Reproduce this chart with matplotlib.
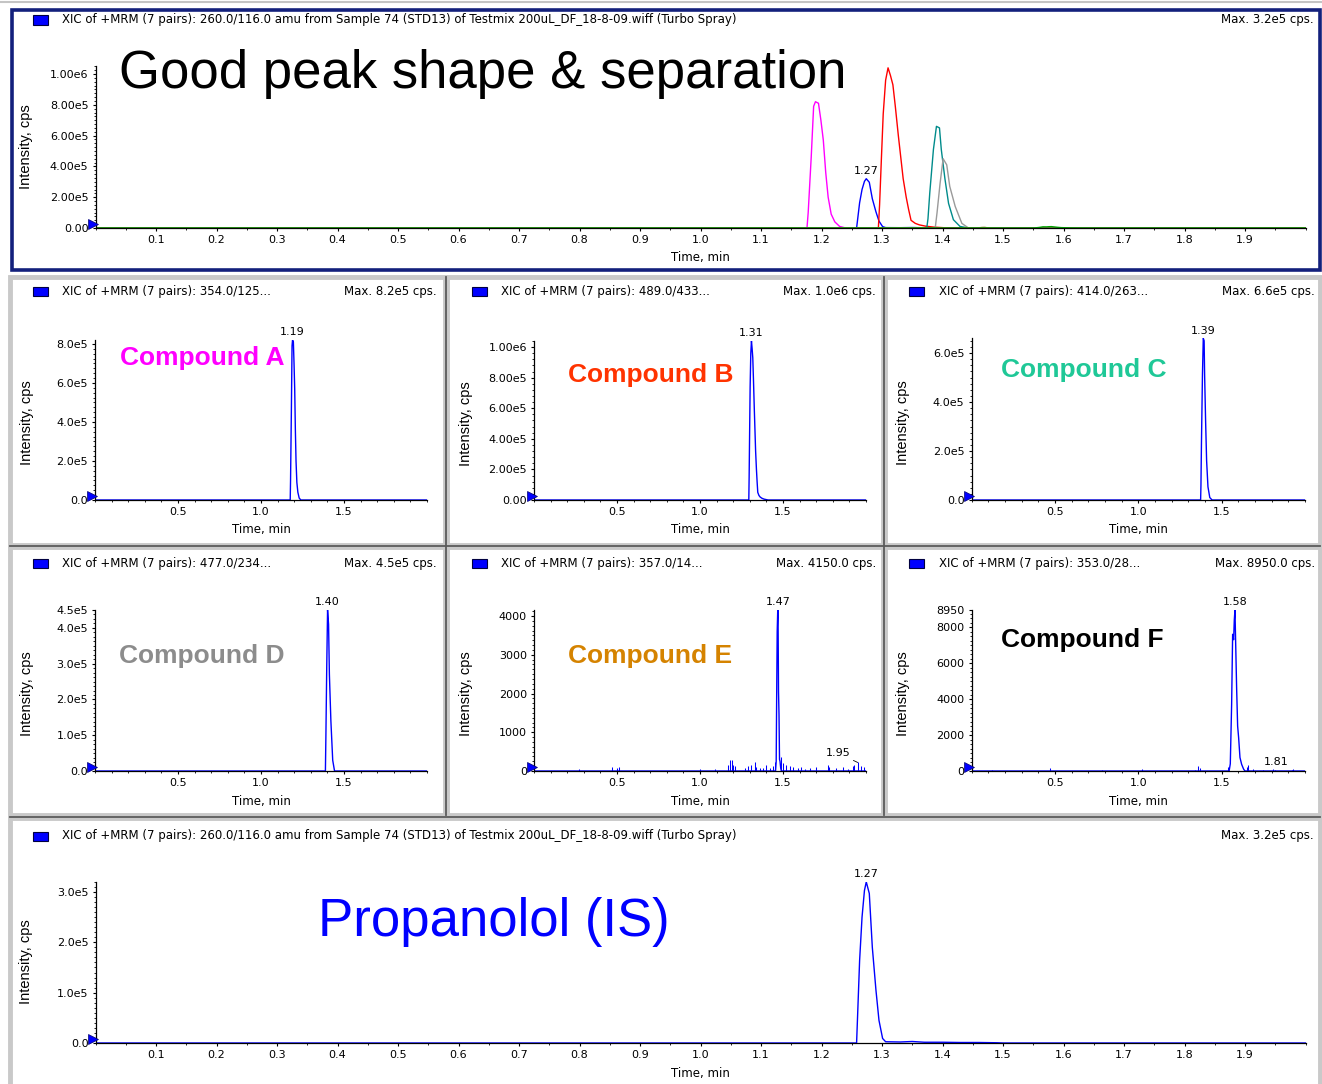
import matplotlib.pyplot as plt
import matplotlib.transforms as mtransforms
from matplotlib.patches import Rectangle
from matplotlib.lines import Line2D
from matplotlib.ticker import MultipleLocator, FixedLocator, FixedFormatter

W, H = 1322, 1084

# XIC traces: retention time (min) and intensity (cps)
a_t = [0.0, 1.176, 1.178, 1.183, 1.187, 1.190, 1.195, 1.199, 1.203, 1.207, 1.211, 1.216, 1.222, 1.230, 1.240, 2.0]
a_i = [0, 0, 1.0e5, 4.6e5, 7.9e5, 8.2e5, 8.1e5, 7.0e5, 5.7e5, 3.6e5, 2.0e5, 9.0e4, 4.0e4, 1.0e4, 0, 0]

b_t = [0.0, 1.294, 1.296, 1.299, 1.302, 1.306, 1.310, 1.314, 1.318, 1.322, 1.327, 1.331, 1.335,
       1.340, 1.344, 1.348, 1.355, 1.362, 1.372, 1.385, 1.410, 2.0]
b_i = [0, 0, 1.5e5, 4.5e5, 7.4e5, 9.6e5, 1.04e6, 9.9e5, 9.3e5, 7.9e5, 6.0e5, 4.6e5, 3.2e5,
       2.0e5, 1.2e5, 5.0e4, 3.0e4, 2.0e4, 1.2e4, 6.0e3, 0, 0]

c_t = [0.0, 1.374, 1.376, 1.379, 1.385, 1.390, 1.395, 1.398, 1.404, 1.410, 1.418, 1.429, 1.443, 2.0]
c_i = [0, 0, 6.0e4, 2.3e5, 5.1e5, 6.6e5, 6.5e5, 5.1e5, 3.2e5, 1.6e5, 5.4e4, 1.0e4, 0, 0]

d_t = [0.0, 1.388, 1.391, 1.396, 1.401, 1.407, 1.412, 1.421, 1.432, 1.443, 2.0]
d_i = [0, 0, 1.0e5, 2.9e5, 4.5e5, 4.1e5, 2.7e5, 1.4e5, 3.0e4, 0, 0]

e_t = [0.0, 1.455, 1.459, 1.462, 1.465, 1.468, 1.470, 1.473, 1.476, 1.479, 1.482, 1.486, 1.490, 2.0]
e_i = [0, 0, 250, 2000, 3600, 4100, 4150, 2050, 1450, 300, 250, 80, 0, 0]
e_noise_t = [0.27, 0.47, 0.50, 0.51, 1.00, 1.09, 1.17, 1.18, 1.19, 1.20, 1.21, 1.27, 1.29, 1.31,
             1.33, 1.34, 1.36, 1.38, 1.40, 1.42, 1.44, 1.45, 1.49, 1.50, 1.52, 1.54, 1.56, 1.59,
             1.61, 1.63, 1.66, 1.70, 1.77, 1.78, 1.82, 1.86, 1.89, 1.92, 1.93, 1.95, 1.97, 1.99]
e_noise_i = [40, 100, 80, 100, 50, 60, 150, 280, 280, 150, 120, 80, 120, 160,
             220, 110, 80, 90, 150, 80, 140, 220, 350, 200, 150, 120, 100, 80,
             100, 60, 80, 100, 150, 100, 80, 100, 60, 120, 150, 220, 120, 100]

f_t = [0.0, 1.545, 1.552, 1.560, 1.566, 1.572, 1.576, 1.580, 1.584, 1.590, 1.596, 1.602, 1.610,
       1.620, 1.632, 1.640, 2.0]
f_i = [0, 0, 400, 3700, 7600, 7300, 8400, 8950, 7200, 4600, 2500, 1850, 750, 370, 100, 0, 0]
f_noise_t = [0.12, 0.47, 0.78, 1.02, 1.34, 1.36, 1.37, 1.54, 1.65, 1.66, 1.69, 1.75, 1.81, 1.82, 1.92, 1.93]
f_noise_i = [80, 150, 80, 100, 80, 280, 150, 250, 200, 320, 100, 80, 120, 80, 80, 100]

# propranolol internal standard
p_t = [0.0, 1.258, 1.260, 1.263, 1.267, 1.271, 1.274, 1.279, 1.284, 1.290, 1.295, 1.301, 1.306,
       1.33, 1.35, 1.37, 1.40, 1.43, 1.46, 1.49, 1.50, 2.0]
p_i = [0, 0, 6.5e4, 1.64e5, 2.5e5, 3.03e5, 3.2e5, 2.97e5, 1.9e5, 1.05e5, 4.5e4, 9e3, 2.5e3,
       2e3, 3e3, 1.5e3, 1.5e3, 1e3, 1e3, 5e2, 0, 0]

# transitions shown in each panel header
hdr_full = ("XIC of +MRM (7 pairs): 260.0/116.0 amu from Sample 74 (STD13) of "
            "Testmix 200uL_DF_18-8-09.wiff (Turbo Spray)")
hdr_a = "XIC of +MRM (7 pairs): 354.0/125..."
hdr_b = "XIC of +MRM (7 pairs): 489.0/433..."
hdr_c = "XIC of +MRM (7 pairs): 414.0/263..."
hdr_d = "XIC of +MRM (7 pairs): 477.0/234..."
hdr_e = "XIC of +MRM (7 pairs): 357.0/14..."
hdr_f = "XIC of +MRM (7 pairs): 353.0/28..."

# y tick positions / labels
yt_top = [0, 2e5, 4e5, 6e5, 8e5, 1e6]
yl_top = ["0.00", "2.00e5", "4.00e5", "6.00e5", "8.00e5", "1.00e6"]
yt_a = [0, 2e5, 4e5, 6e5, 8e5]
yl_a = ["0.0", "2.0e5", "4.0e5", "6.0e5", "8.0e5"]
yt_b = [0, 2e5, 4e5, 6e5, 8e5, 1e6]
yl_b = ["0.00", "2.00e5", "4.00e5", "6.00e5", "8.00e5", "1.00e6"]
yt_c = [0, 2e5, 4e5, 6e5]
yl_c = ["0.0", "2.0e5", "4.0e5", "6.0e5"]
yt_d = [0, 1e5, 2e5, 3e5, 4e5, 4.5e5]
yl_d = ["0.0", "1.0e5", "2.0e5", "3.0e5", "4.0e5", "4.5e5"]
yt_e = [0, 1000, 2000, 3000, 4000]
yl_e = ["0", "1000", "2000", "3000", "4000"]
yt_f = [0, 2000, 4000, 6000, 8000, 8950]
yl_f = ["0", "2000", "4000", "6000", "8000", "8950"]
yt_p = [0, 1e5, 2e5, 3e5]
yl_p = ["0.0", "1.0e5", "2.0e5", "3.0e5"]

xt_wide = [0.1, 0.2, 0.3, 0.4, 0.5, 0.6, 0.7, 0.8, 0.9, 1.0, 1.1, 1.2, 1.3, 1.4, 1.5, 1.6, 1.7, 1.8, 1.9]
xt_small = [0.5, 1.0, 1.5]

SMALL = 'DejaVu Sans'
BIG = 'Liberation Sans'
BLUE = '#0000ff'

fig = plt.figure(figsize=(W / 100, H / 100), dpi=100)
fig.patch.set_facecolor('white')


def fxy(x, y):
    return x / W, 1 - y / H


def add_ax(x0, y0, x1, y1):
    return fig.add_axes([x0 / W, 1 - y1 / H, (x1 - x0) / W, (y1 - y0) / H])


def ftext(x, y, s, **kw):
    kw.setdefault('family', SMALL)
    kw.setdefault('fontsize', 8)
    fig.text(x / W, 1 - y / H, s, **kw)


# panel frames, kept beneath the axes
fig.add_artist(Line2D([0, 1], [1 - 2 / H] * 2, color='#c4c4c4', lw=1.5,
                      transform=fig.transFigure, zorder=-3))
boxes = [(10, 277, 445, 545), (447, 277, 883, 545), (885, 277, 1320, 545),
         (10, 547, 445, 815), (447, 547, 883, 815), (885, 547, 1320, 815),
         (10, 818, 1320, 1086)]
for x0, y0, x1, y1 in boxes:
    fig.add_artist(Rectangle(fxy(x0, y1), (x1 - x0) / W, (y1 - y0) / H, transform=fig.transFigure,
                             fc='white', ec='#c9c9c9', lw=3.5, zorder=-3))
for xs in (446, 884):
    fig.add_artist(Line2D([xs / W] * 2, [1 - 277 / H, 1 - 815 / H], color='#5c5c5c', lw=1.3,
                          transform=fig.transFigure, zorder=-2))
for ys in (546, 816.5):
    fig.add_artist(Line2D([10 / W, 1320 / W], [1 - ys / H] * 2, color='#5c5c5c', lw=1.3,
                          transform=fig.transFigure, zorder=-2))
fig.add_artist(Rectangle(fxy(12, 270), 1308 / W, 260 / H, transform=fig.transFigure,
                         fc='white', ec='#13207c', lw=2.6, zorder=-3))


def style(ax, ymax, yt, yl, ymin_step, xt, xmin_step):
    ax.set_xlim(0, 2.0)
    ax.set_ylim(0, ymax)
    ax.patch.set_visible(False)
    ax.spines['top'].set_visible(False)
    ax.spines['right'].set_visible(False)
    ax.spines['left'].set_linewidth(0.9)
    ax.spines['bottom'].set_linewidth(0.9)
    ax.yaxis.set_major_locator(FixedLocator(yt))
    ax.yaxis.set_major_formatter(FixedFormatter(yl))
    ax.yaxis.set_minor_locator(MultipleLocator(ymin_step))
    ax.xaxis.set_major_locator(FixedLocator(xt))
    ax.xaxis.set_major_formatter(FixedFormatter([f"{v:.1f}" for v in xt]))
    ax.xaxis.set_minor_locator(MultipleLocator(xmin_step))
    ax.tick_params(which='major', direction='out', length=2.5, width=0.8, pad=2.5, labelsize=8)
    ax.tick_params(which='minor', direction='out', length=1.4, width=0.6)
    # start-of-run marker at the origin
    tri = mtransforms.offset_copy(ax.transData, fig=fig, x=-2.5, y=4, units='dots')
    ax.plot([0], [0], marker='>', ms=7, color=BLUE, mec='#000070', mew=0.5,
            transform=tri, clip_on=False, zorder=5)


def header(xsq, xtxt, xmax, y, text, maxtxt):
    fig.add_artist(Rectangle(fxy(xsq, y + 4.5), 15 / W, 9 / H, transform=fig.transFigure,
                             fc=BLUE, ec='#000040', lw=0.8))
    ftext(xtxt, y, text, va='center', ha='left', fontsize=8.5)
    ftext(xmax, y, maxtxt, va='center', ha='right', fontsize=8.5)


def peak_label(ax, t, i, dx=0, dy=2, leader=False):
    kw = {}
    if leader:
        kw['arrowprops'] = dict(arrowstyle='-', lw=0.6, color='black', shrinkA=0, shrinkB=0)
    ax.annotate(f"{t:.2f}", xy=(t, i), xytext=(dx, dy), textcoords='offset points',
                ha='center', va='bottom', fontsize=8, family=SMALL, **kw)


def apex(t, i):
    k = max(range(len(i)), key=lambda j: i[j])
    return t[k], i[k]


def max_text(v):
    if v >= 1e5:
        m, e = f"{v:.1e}".split("e")
        return f"Max. {m}e{int(e)} cps."
    return f"Max. {v:.1f} cps."


# overlay of all seven transitions
ax0 = add_ax(95.5, 66.3, 1305.5, 228)
style(ax0, 1.05e6, yt_top, yl_top, 2.5e4, xt_wide, 0.05)
overlay = [(a_t, a_i, '#ff00ff'), (p_t, p_i, BLUE), (b_t, b_i, '#ff0000'), (c_t, c_i, '#008b8b'),
           (d_t, d_i, '#9a9a9a'), (e_t, e_i, '#9b7b3a'), (f_t, f_i, '#00a000')]
for t, i, col in overlay:
    ax0.plot(t, i, color=col, lw=1.0)
peak_label(ax0, *apex(p_t, p_i))
header(33, 62, 1314, 20, hdr_full, max_text(max(p_i)))
ftext(26, 147, "Intensity, cps", family=BIG, fontsize=10.5, rotation=90, va='center', ha='center')
ftext(700, 258, "Time, min", fontsize=8.5, ha='center', va='center')
fig.text(119 / W, 1 - 88 / H, "Good peak shape & separation", family=BIG, fontsize=38,
         color='black', va='baseline')

# individual compound panels
panels = [
    # x0, x1, y_base, y_top, t, i, noise t, noise i, yticks, ylabels, minor step, header, name, colour, name x, name y
    (95, 427, 500, 340, a_t, a_i, None, None, yt_a, yl_a, 2.5e4, hdr_a, "Compound A", '#ff00ff', 120, 365),
    (534, 866, 500, 341, b_t, b_i, None, None, yt_b, yl_b, 4e4, hdr_b, "Compound B", '#ff3300', 568, 382),
    (971.5, 1305, 500, 338.3, c_t, c_i, None, None, yt_c, yl_c, 2.5e4, hdr_c, "Compound C", '#1fc897', 1001, 377),
    (95, 427, 771, 610, d_t, d_i, None, None, yt_d, yl_d, 1.25e4, hdr_d, "Compound D", '#8c8c8c', 119, 663),
    (534, 866, 771, 610.2, e_t, e_i, e_noise_t, e_noise_i, yt_e, yl_e, 125, hdr_e, "Compound E", '#d58300', 568, 663),
    (971.5, 1305, 771, 610, f_t, f_i, f_noise_t, f_noise_i, yt_f, yl_f, 250, hdr_f, "Compound F", 'black', 1001, 647),
]
for x0, x1, yb, ytop, t, i, nt, ni, yt, yl, mstep, hdr, name, col, nx, ny in panels:
    ax = add_ax(x0, ytop, x1, yb)
    top = max(i)
    style(ax, top, yt, yl, mstep, xt_small, 0.1)
    ax.plot(t, i, color=BLUE, lw=1.0)
    if nt is not None:
        ax.vlines(nt, 0, ni, color=BLUE, lw=0.75)
    peak_label(ax, *apex(t, i))
    header(x0 - 62, x0 - 33, x1 + 10, yb - 208, hdr, max_text(top))
    ftext(x0 - 68, (yb + ytop) / 2 + 3, "Intensity, cps", family=BIG, fontsize=10.5,
          rotation=90, va='center', ha='center')
    ftext((x0 + x1) / 2, yb + 30, "Time, min", fontsize=8.5, ha='center', va='center')
    fig.text(nx / W, 1 - ny / H, name, family=BIG, fontsize=19, fontweight='bold',
             color=col, va='baseline')
    if name == "Compound E":
        peak_label(ax, 1.95, 220, dx=-14, dy=3, leader=True)
    if name == "Compound F":
        peak_label(ax, 1.81, 120, dx=2, dy=1)

# internal standard panel
axp = add_ax(95.5, 881.9, 1305.5, 1043)
style(axp, 3.2e5, yt_p, yl_p, 1e4, xt_wide, 0.05)
axp.plot(p_t, p_i, color=BLUE, lw=1.0)
peak_label(axp, *apex(p_t, p_i))
header(33, 62, 1314, 836, hdr_full, max_text(max(p_i)))
ftext(26, 962, "Intensity, cps", family=BIG, fontsize=10.5, rotation=90, va='center', ha='center')
ftext(700, 1073, "Time, min", fontsize=8.5, ha='center', va='center')
fig.text(318 / W, 1 - 936 / H, "Propanolol (IS)", family=BIG, fontsize=38, color=BLUE, va='baseline')

fig.savefig('out.png', dpi=100)
